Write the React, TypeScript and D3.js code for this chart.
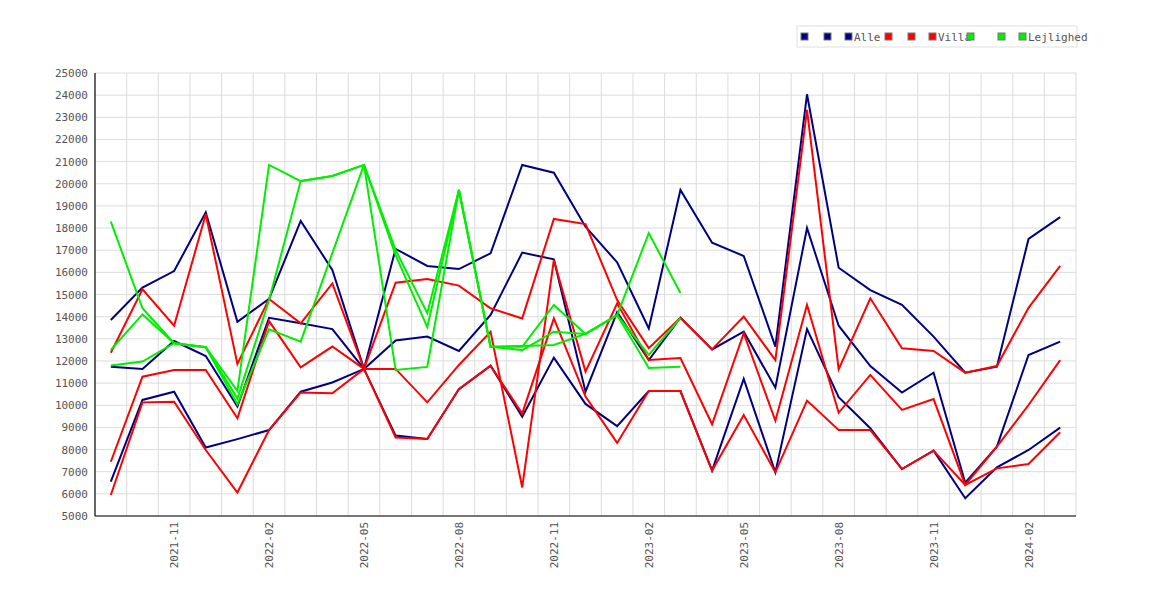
import React from "react";
import * as d3 from "d3";

const startMonth = new Date(2021, 8, 1); // 2021-09
const nMonths = 31;
const months = d3.range(nMonths).map((i) => d3.timeFormat("%Y-%m")(d3.timeMonth.offset(startMonth, i)));
const yTicks = d3.range(5000, 25001, 1000);

const alleA = [13850,15310,16060,18710,13770,14800,18320,16110,11640,17060,16290,16150,16860,20850,20500,18060,16450,13470,19720,17340,16740,12650,24040,16210,15200,14530,13100,11470,11740,17510,18490];
const alleB = [11740,11640,12900,12220,9940,13950,13700,13440,11640,12920,13100,12450,14080,16890,16590,10610,14200,12040,13950,12520,13320,10790,18000,13590,11770,10570,11470,6500,8130,12270,12870];
const alleC = [6550,10240,10610,8090,8470,8880,10610,11030,11640,8630,8480,10730,11790,9480,12150,10060,9060,10640,10640,7050,11190,6970,13440,10360,8960,7120,7950,5800,7200,7980,8990];

const villaA = [12370,15230,13590,18620,11860,14800,13700,15500,11640,15530,15700,15400,14380,13920,18410,18180,14750,12580,13950,12520,14000,12040,23330,11620,14830,12570,12450,11470,11770,14400,16290];
const villaB = [7450,11290,11590,11590,9410,13800,11710,12650,11640,11640,10130,11820,13320,6290,16560,11520,14600,12040,12130,9140,13250,9300,14530,9660,11370,9790,10280,6400,8130,10010,12040];
const villaC = [5950,10130,10160,7980,6060,8880,10580,10540,11640,8540,8480,10730,11790,9620,13920,10390,8300,10640,10640,7050,9560,6970,10210,8880,8880,7120,7950,6400,7150,7350,8780];

const lejA = [18290,14380,12800,12620,10650,20850,20120,20350,20850,17010,14160,19720,12640,12640,14530,13220,14070,17770,15070];
const lejB = [12500,14100,12800,12620,10300,14750,20120,20350,20850,16780,13530,19720,12640,12490,13320,13220,14070,12270,13940];
const lejC = [11790,11970,12800,12620,10050,13430,12870,16870,20850,11590,11730,19720,12640,12680,12720,13220,14070,11680,11740];

const groups = [
  { name: "Alle", color: "#000080", series: [alleA, alleB, alleC] },
  { name: "Villa", color: "#ff0000", series: [villaA, villaB, villaC] },
  { name: "Lejlighed", color: "#00ee00", series: [lejA, lejB, lejC] },
];

const W = 1170, H = 600;
const L = 95, R = 1076, T = 73, B = 516;
const font = "DejaVu Sans Mono, monospace";

export default function App() {
  const x = d3.scaleLinear().domain([-0.5, nMonths - 0.5]).range([L, R]);
  const y = d3.scaleLinear().domain([5000, 25000]).range([B, T]);
  const line = d3.line<number>().x((_, i) => x(i)).y((d) => y(d));
  const gridX = d3.range(0, nMonths - 1).map((i) => i + 0.5);
  const labelIdx = d3.range(2, nMonths, 3);

  const legendItems: { label: string; color: string }[] = [];
  groups.forEach((g) => {
    legendItems.push({ label: "", color: g.color });
    legendItems.push({ label: "", color: g.color });
    legendItems.push({ label: g.name, color: g.color });
  });
  const legendX = [804, 827, 848, 888, 911, 932, 970, 1001, 1022];

  return (
    <svg width={W} height={H} style={{ position: "absolute", left: 0, top: 0, background: "#fff" }}>
      <rect x={0} y={0} width={W} height={H} fill="#fff" />
      {yTicks.map((t) => (
        <line key={"gy" + t} x1={L} x2={R} y1={y(t)} y2={y(t)} stroke="#dcdcdc" strokeWidth={1} />
      ))}
      {gridX.map((g) => (
        <line key={"gx" + g} x1={x(g)} x2={x(g)} y1={T} y2={B} stroke="#dcdcdc" strokeWidth={1} />
      ))}
      <line x1={R} x2={R} y1={T} y2={B} stroke="#dcdcdc" />
      {groups.map((g) =>
        g.series.map((s, k) => (
          <path key={g.name + k} d={line(s) || ""} fill="none" stroke={g.color} strokeWidth={2} strokeLinejoin="miter" />
        ))
      )}
      <line x1={L} x2={L} y1={T} y2={B} stroke="#000" strokeWidth={1.2} />
      <line x1={L} x2={R} y1={B} y2={B} stroke="#000" strokeWidth={1.2} />
      {yTicks.map((t) => (
        <text key={"ty" + t} x={L - 7} y={y(t) + 4} textAnchor="end" fontFamily={font} fontSize={11} fill="#555">
          {t}
        </text>
      ))}
      {labelIdx.map((i) => (
        <text
          key={"tx" + i}
          transform={`translate(${x(i) + 4},${B + 6}) rotate(-90)`}
          textAnchor="end"
          fontFamily={font}
          fontSize={11}
          fill="#555"
        >
          {months[i]}
        </text>
      ))}
      <rect x={797} y={26} width={280} height={21} fill="#fff" stroke="#e0e0e0" />
      {legendItems.map((it, i) => (
        <g key={"lg" + i}>
          <rect x={legendX[i] - 3} y={33} width={7} height={7} fill={it.color} stroke="#777" strokeWidth={1} />
          {it.label && (
            <text x={legendX[i] + 6} y={41} fontFamily={font} fontSize={11} fill="#555">
              {it.label}
            </text>
          )}
        </g>
      ))}
    </svg>
  );
}
